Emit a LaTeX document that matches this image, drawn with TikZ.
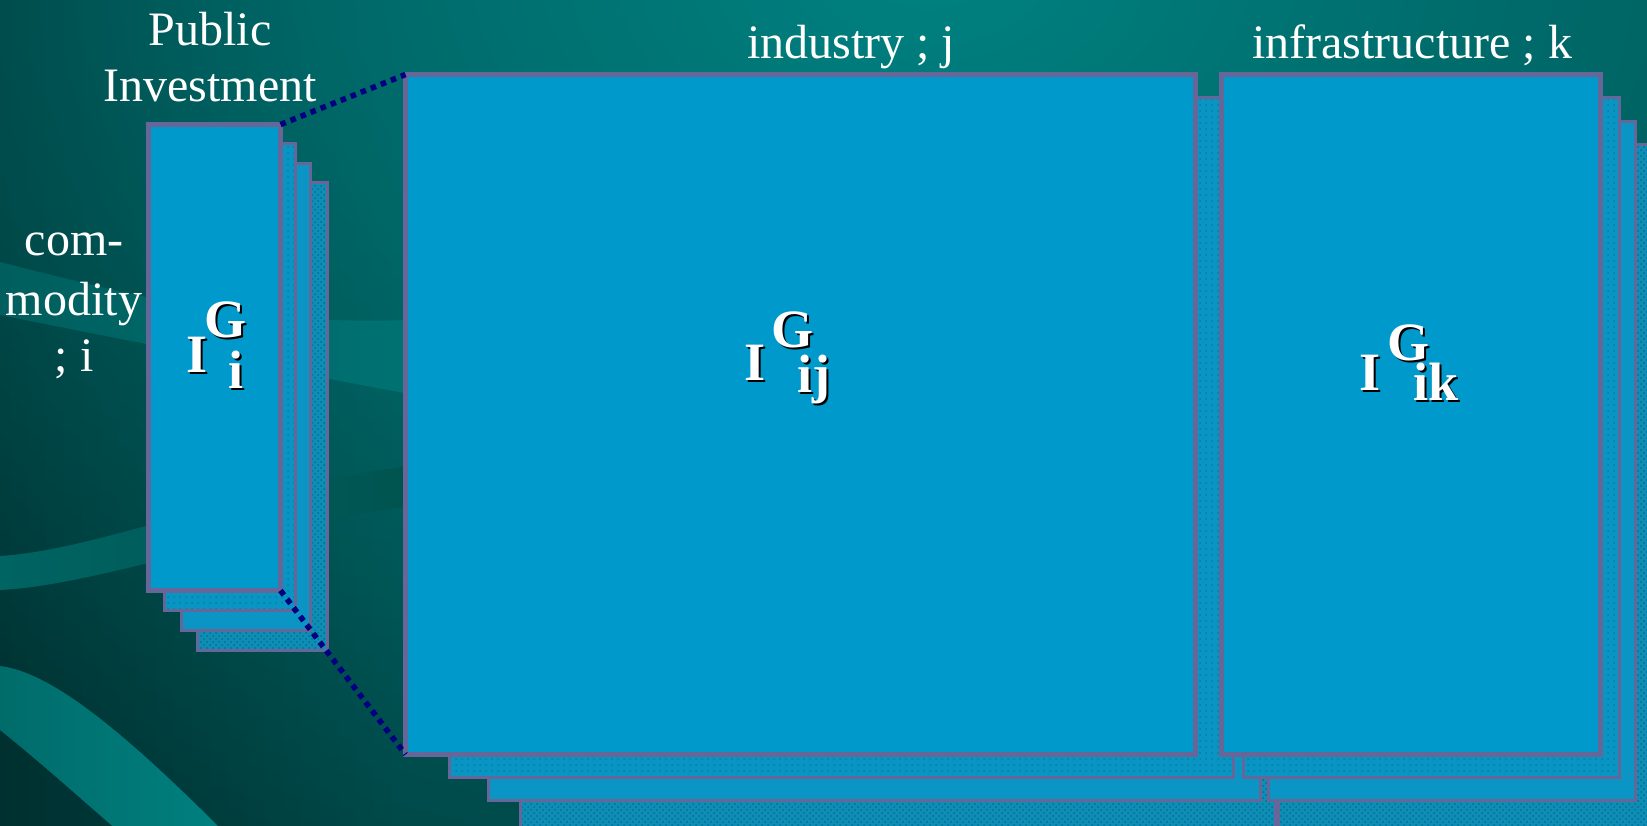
\documentclass[tikz,border=0pt]{standalone}
\usepackage{fontspec}
\setmainfont{Liberation Serif}
\usetikzlibrary{fadings,patterns}
\tikzfading[name=glowfade, inner color=transparent!0, outer color=transparent!100]
\definecolor{boxfill}{HTML}{0099CC}
\definecolor{boxline}{HTML}{666699}
\definecolor{layA}{HTML}{0895C4}
\definecolor{layB}{HTML}{0A95C4}
\definecolor{layC}{HTML}{0E8EB6}
\definecolor{speck}{HTML}{05708A}
\definecolor{dotnavy}{HTML}{000080}
\definecolor{bgleft}{HTML}{003030}
\definecolor{bgmid}{HTML}{004646}
\definecolor{bgright}{HTML}{004848}
\definecolor{glowc}{HTML}{008282}
\definecolor{bandAl}{HTML}{005E5E}
\definecolor{bandAr}{HTML}{007272}
\definecolor{bandBl}{HTML}{006462}
\definecolor{bandBr}{HTML}{005450}
\definecolor{bandCl}{HTML}{006C6A}
\definecolor{bandCr}{HTML}{008080}
\begin{document}
\begin{tikzpicture}[x=0.5pt,y=-0.5pt,
  frontbox/.style={rectangle, draw=boxline, fill=boxfill, line width=2.5pt, inner sep=0pt, outer sep=0pt},
  layerone/.style={preaction={fill=layA}, pattern=dots, pattern color=speck!60!layA, draw=boxline, line width=1.5pt},
  layertwo/.style={draw=boxline, fill=layB, line width=1.5pt},
  layerthree/.style={preaction={fill=layC}, pattern=crosshatch dots, pattern color=speck, draw=boxline, line width=1.5pt},
  lbl/.style={text=white, font=\fontsize{24}{28}\selectfont, inner sep=0pt, anchor=base},
  sym/.style={text=white, font=\fontsize{27}{30}\selectfont\bfseries, inner sep=0pt, anchor=base west},
  symsh/.style={sym, text=black},
  dotline/.style={draw=dotnavy, line width=2.8pt, dash pattern=on 2.8pt off 2.6pt}]

\useasboundingbox (0,0) rectangle (1647,825);
\clip (0,0) rectangle (1647,825);

% background
\shade[left color=bgleft, right color=bgmid] (0,0) rectangle (401,825);
\shade[left color=bgmid, right color=bgright] (400,0) rectangle (1647,825);
\fill[glowc, path fading=glowfade] (930,-40) ellipse [x radius=1450, y radius=1000];

% swooshes
\shade[left color=bandAl, right color=bandAr] (0,262) .. controls (150,300) and (250,325) .. (410,320) -- (410,394) .. controls (280,370) and (150,345) .. (0,315) -- cycle;
\shade[left color=bandBl, right color=bandBr] (0,556) .. controls (100,550) and (250,485) .. (410,466) -- (410,506) .. controls (250,528) and (100,585) .. (0,590) -- cycle;
\shade[left color=bandCl, right color=bandCr] (0,666) .. controls (50,672) and (120,728) .. (222,830) -- (117,830) .. controls (80,798) and (40,762) .. (0,730) -- cycle;

% back layers
\draw[layerthree] (197.5,182.5) rectangle (327.5,650.5);
\draw[layertwo] (181.5,163.5) rectangle (310.5,630.5);
\draw[layerone] (164.5,143.5) rectangle (295.5,610.5);

\draw[layerthree] (520.5,144.5) rectangle (1275.5,840);
\draw[layerthree] (1278,144.5) rectangle (1660,840);
\draw[layertwo] (488.5,121.5) rectangle (1260.5,800.5);
\draw[layertwo] (1268.5,121.5) rectangle (1635.5,800.5);
\draw[layerone] (449.5,97.5) rectangle (1233.5,777.5);
\draw[layerone] (1243.5,97.5) rectangle (1619.5,777.5);

% front boxes
\node[frontbox, minimum width=66pt, minimum height=233pt] (pub) at (214.5,357.5) {};
\node[frontbox, minimum width=395pt, minimum height=340pt] (ind) at (800.5,414.5) {};
\node[frontbox, minimum width=189.5pt, minimum height=340pt] (inf) at (1411,414.5) {};

% dotted connectors
\draw[dotline] (pub.north east) -- (ind.north west);
\draw[dotline] (pub.south east) -- (ind.south west);

% labels
\node[lbl] (pubA) at (210,45) {Public};
\node[lbl] (pubB) at (210,101) {Investment};
\node[lbl] (comA) at (74,255) {com-};
\node[lbl] (comB) at (74,315) {modity};
\node[lbl] (comC) at (74,371) {; i};
\node[lbl] (indlbl) at (851,58) {industry ; j};
\node[lbl] (inflbl) at (1412,58) {infrastructure ; k};

% symbols: small box
\node[symsh] (aIs) at (188,374) {I};
\node[symsh] (aGs) at (206,339) {G};
\node[symsh] (ais) at (230,390) {i};
\node[sym] (aI) at (186,372) {I};
\node[sym] (aG) at (204,337) {G};
\node[sym] (ai) at (228,388) {i};

% symbols: industry
\node[symsh] (bIs) at (746,382) {I};
\node[symsh] (bGs) at (773,349) {G};
\node[symsh] (bis) at (799,394) {ij};
\node[sym] (bI) at (744,380) {I};
\node[sym] (bG) at (771,347) {G};
\node[sym] (bi) at (797,392) {ij};

% symbols: infrastructure
\node[symsh] (cIs) at (1361,392) {I};
\node[symsh] (cGs) at (1389,362) {G};
\node[symsh] (cis) at (1415,402) {ik};
\node[sym] (cI) at (1359,390) {I};
\node[sym] (cG) at (1387,360) {G};
\node[sym] (ci) at (1413,400) {ik};
\end{tikzpicture}
\end{document}
